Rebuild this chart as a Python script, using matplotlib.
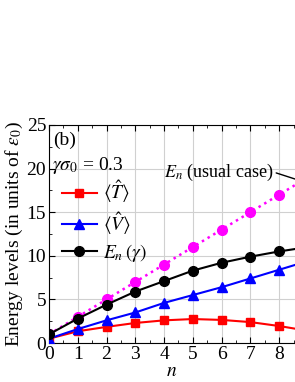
import numpy as np
import matplotlib
matplotlib.use('Agg')
import matplotlib.pyplot as plt
from matplotlib.ticker import MultipleLocator

plt.rcParams['font.family'] = ['Liberation Serif', 'DejaVu Serif']
plt.rcParams['mathtext.fontset'] = 'stix'

# data (n = 9 is only there so the lines run to the edge)
n = [0, 1, 2, 3, 4, 5, 6, 7, 8, 9]
E_usual = [1, 3, 5, 7, 9, 11, 13, 15, 17, 19]
E_gamma = [1.0, 2.8, 4.4, 5.9, 7.1, 8.3, 9.2, 9.9, 10.5, 11.0]
V_mean = [0.5, 1.6, 2.6, 3.5, 4.6, 5.5, 6.4, 7.4, 8.4, 9.4]
T_mean = [0.5, 1.35, 1.85, 2.3, 2.6, 2.75, 2.65, 2.4, 1.95, 1.4]

fig = plt.figure(figsize=(2.95, 3.82), dpi=100)
ax = fig.add_axes([0.166, 0.102, 0.834, 0.571])

ax.plot(n, E_usual, ':', color='#ff00ff', lw=1.8, marker='o', ms=7, zorder=2)
l1, = ax.plot(n, T_mean, '-', color='#ff0000', lw=1.5, marker='s', ms=6,
              label=r'$\langle\hat{T}\rangle$', zorder=3)
l2, = ax.plot(n, V_mean, '-', color='#0000ff', lw=1.5, marker='^', ms=7,
              label=r'$\langle\hat{V}\rangle$', zorder=3)
l3, = ax.plot(n, E_gamma, '-', color='black', lw=1.5, marker='o', ms=7,
              label=r'$E_n\,(\gamma)$', zorder=3)

ax.set_xlim(0, 8.55)
ax.set_ylim(0, 25)
ax.xaxis.set_major_locator(MultipleLocator(1))
ax.xaxis.set_minor_locator(MultipleLocator(0.5))
ax.yaxis.set_major_locator(MultipleLocator(5))
ax.yaxis.set_minor_locator(MultipleLocator(2.5))
ax.tick_params(which='both', direction='in', top=True, right=False, labelsize=14, pad=2)
ax.tick_params(which='major', length=4)
ax.tick_params(which='minor', length=2)
ax.grid(True, color='#d0d0d0', lw=0.8)
ax.set_axisbelow(True)
ax.spines['right'].set_visible(False)

ax.set_xlabel(r'$n$', fontsize=14, labelpad=0)
ax.set_ylabel(r'Energy levels (in units of $\varepsilon_0$)', fontsize=14, labelpad=1)

ax.text(0.15, 23.2, '(b)', fontsize=14, va='center')
ax.text(0.1, 20.4, r'$\gamma\sigma_0$ = 0.3', fontsize=14, va='center')

ax.legend(handles=[l1, l2, l3], loc='upper left', bbox_to_anchor=(0.02, 0.79),
          frameon=False, fontsize=14, handlelength=1.8, handletextpad=0.3,
          labelspacing=0.25, borderaxespad=0)

ax.annotate(r'$E_n$ (usual case)', xy=(9.3, 18.0), xytext=(5.9, 19.6),
            fontsize=13, ha='center', va='center', annotation_clip=False,
            arrowprops=dict(arrowstyle='-', color='black', lw=1,
                            shrinkA=0, shrinkB=0, relpos=(1, 0.5)))

fig.savefig('out.png', dpi=100)
